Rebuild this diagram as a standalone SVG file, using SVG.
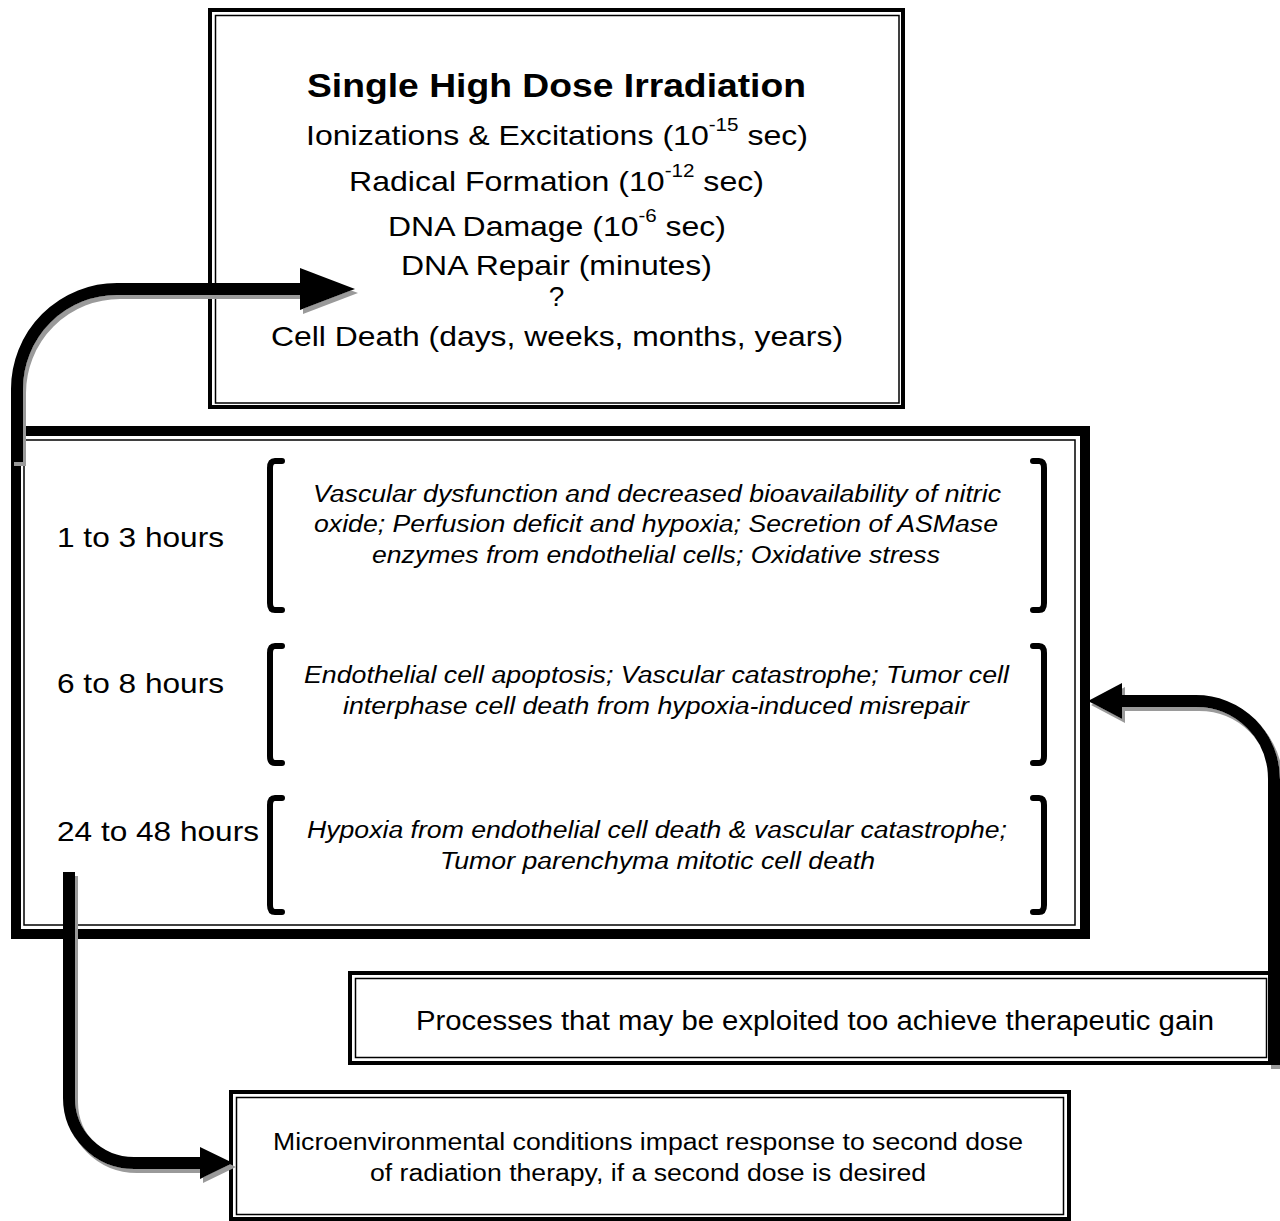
<svg xmlns="http://www.w3.org/2000/svg" width="1280" height="1221" viewBox="0 0 1280 1221">
<style>
.outer{fill:none;stroke:#000}
.inner{fill:none;stroke:#000;stroke-width:1.5}
.t{font-family:"Liberation Sans",Arial,sans-serif;fill:#000}
.it{font-family:"Liberation Sans",Arial,sans-serif;font-style:italic;font-size:23px;fill:#000;text-anchor:middle}
.br{fill:none;stroke:#000;stroke-width:6;stroke-linecap:round;stroke-linejoin:round}
.conn{fill:none;stroke:#000;stroke-width:12}
</style>
<defs>
<filter id="sh" x="-10%" y="-10%" width="130%" height="130%">
<feDropShadow dx="3" dy="4" stdDeviation="0" flood-color="#9a9a9a" flood-opacity="1"/>
</filter>
<marker id="h1" markerUnits="userSpaceOnUse" markerWidth="56" markerHeight="42" refX="0" refY="21" orient="auto" overflow="visible">
<path d="M0,0 L55,21 L0,42 Z" fill="#000"/>
</marker>
<marker id="h2" markerUnits="userSpaceOnUse" markerWidth="35" markerHeight="36" refX="0" refY="18" orient="auto" overflow="visible">
<path d="M0,0 L34,18 L0,36 Z" fill="#000"/>
</marker>
<marker id="h3" markerUnits="userSpaceOnUse" markerWidth="34" markerHeight="32" refX="0" refY="16" orient="auto" overflow="visible">
<path d="M0,0 L33,16 L0,32 Z" fill="#000"/>
</marker>
</defs>
<rect width="1280" height="1221" fill="#fff"/>

<g id="top-box">
<rect class="outer" x="210" y="10" width="693" height="397" stroke-width="4"/>
<rect class="inner" x="215.5" y="15.5" width="683.5" height="387.5"/>
<text class="t" x="556.5" y="97" font-size="33" font-weight="bold" text-anchor="middle" textLength="499" lengthAdjust="spacingAndGlyphs">Single High Dose Irradiation</text>
<text class="t" x="557" y="145" font-size="28" text-anchor="middle" textLength="502" lengthAdjust="spacingAndGlyphs">Ionizations &amp; Excitations (10<tspan font-size="18" dy="-14">-15</tspan><tspan dy="14"> sec)</tspan></text>
<text class="t" x="556.5" y="191" font-size="28" text-anchor="middle" textLength="415" lengthAdjust="spacingAndGlyphs">Radical Formation (10<tspan font-size="18" dy="-14">-12</tspan><tspan dy="14"> sec)</tspan></text>
<text class="t" x="557" y="236" font-size="28" text-anchor="middle" textLength="338" lengthAdjust="spacingAndGlyphs">DNA Damage (10<tspan font-size="18" dy="-14">-6</tspan><tspan dy="14"> sec)</tspan></text>
<text class="t" x="556.5" y="275" font-size="28" text-anchor="middle" textLength="311" lengthAdjust="spacingAndGlyphs">DNA Repair (minutes)</text>
<text class="t" x="556.5" y="306" font-size="28" text-anchor="middle">?</text>
<text class="t" x="557" y="346" font-size="28" text-anchor="middle" textLength="572" lengthAdjust="spacingAndGlyphs">Cell Death (days, weeks, months, years)</text>
</g>

<g id="timeline-box">
<rect class="outer" x="16" y="431" width="1069" height="503" stroke-width="10"/>
<rect class="inner" x="24" y="440" width="1051" height="485"/>
</g>

<g id="row-1">
<text class="t" x="57" y="547" font-size="28" textLength="167" lengthAdjust="spacingAndGlyphs">1 to 3 hours</text>
<path class="br" d="M282,461 L275,461 Q270,461 270,468 L270,603 Q270,610 275,610 L282,610"/>
<path class="br" d="M1033,461 L1039,461 Q1044,461 1044,468 L1044,603 Q1044,610 1039,610 L1033,610"/>
<text class="it" x="657" y="502" textLength="688" lengthAdjust="spacingAndGlyphs">Vascular dysfunction and decreased bioavailability of nitric</text>
<text class="it" x="656" y="532" textLength="684" lengthAdjust="spacingAndGlyphs">oxide; Perfusion deficit and hypoxia; Secretion of ASMase</text>
<text class="it" x="656" y="563" textLength="568" lengthAdjust="spacingAndGlyphs">enzymes from endothelial cells; Oxidative stress</text>
</g>

<g id="row-2">
<text class="t" x="57" y="693" font-size="28" textLength="167" lengthAdjust="spacingAndGlyphs">6 to 8 hours</text>
<path class="br" d="M282,646 L275,646 Q270,646 270,653 L270,756 Q270,763 275,763 L282,763"/>
<path class="br" d="M1033,646 L1039,646 Q1044,646 1044,653 L1044,756 Q1044,763 1039,763 L1033,763"/>
<text class="it" x="656.5" y="683" textLength="705" lengthAdjust="spacingAndGlyphs">Endothelial cell apoptosis; Vascular catastrophe; Tumor cell</text>
<text class="it" x="656" y="714" textLength="626" lengthAdjust="spacingAndGlyphs">interphase cell death from hypoxia-induced misrepair</text>
</g>

<g id="row-3">
<text class="t" x="57" y="841" font-size="28" textLength="202" lengthAdjust="spacingAndGlyphs">24 to 48 hours</text>
<path class="br" d="M282,798 L275,798 Q270,798 270,805 L270,905 Q270,912 275,912 L282,912"/>
<path class="br" d="M1033,798 L1039,798 Q1044,798 1044,805 L1044,905 Q1044,912 1039,912 L1033,912"/>
<text class="it" x="657" y="838" textLength="700" lengthAdjust="spacingAndGlyphs">Hypoxia from endothelial cell death &amp; vascular catastrophe;</text>
<text class="it" x="657.5" y="869" textLength="435" lengthAdjust="spacingAndGlyphs">Tumor parenchyma mitotic cell death</text>
</g>

<g id="processes-box">
<rect class="outer" x="350" y="973" width="922" height="90" stroke-width="4"/>
<rect class="inner" x="355.5" y="978.5" width="911" height="79"/>
<text class="t" x="815" y="1030" font-size="27" text-anchor="middle" textLength="798" lengthAdjust="spacingAndGlyphs">Processes that may be exploited too achieve therapeutic gain</text>
</g>

<g id="micro-box">
<rect class="outer" x="231" y="1092" width="838" height="127" stroke-width="4"/>
<rect class="inner" x="236.5" y="1097.5" width="827" height="117"/>
<text class="t" x="648" y="1150" font-size="23" text-anchor="middle" textLength="750" lengthAdjust="spacingAndGlyphs">Microenvironmental conditions impact response to second dose</text>
<text class="t" x="648" y="1181" font-size="23" text-anchor="middle" textLength="556" lengthAdjust="spacingAndGlyphs">of radiation therapy, if a second dose is desired</text>
</g>

<g id="connectors" filter="url(#sh)">
<path class="conn" d="M17,462 L17,389 A100,100 0 0 1 117,289 L300,289" marker-end="url(#h1)"/>
<path class="conn" d="M1274,1065 L1274,779 A78,78 0 0 0 1196,701 L1122,701" marker-end="url(#h2)"/>
<path class="conn" d="M69,872 L69,1098 A65,65 0 0 0 134,1163 L200,1163" marker-end="url(#h3)"/>
</g>
</svg>
